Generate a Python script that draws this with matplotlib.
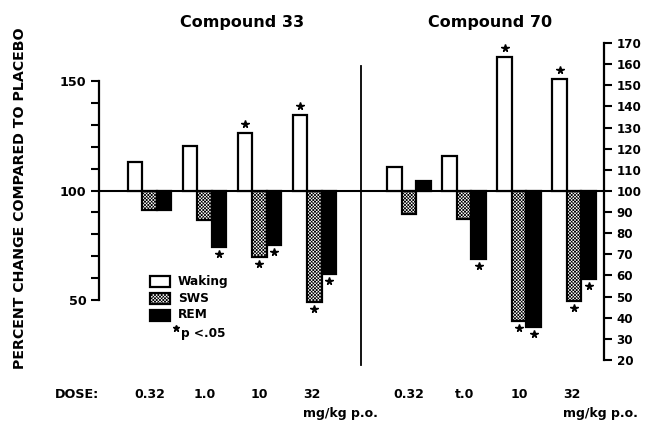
import matplotlib
matplotlib.use('Agg')
import matplotlib.pyplot as plt
import matplotlib.transforms as mtransforms
from matplotlib.patches import Rectangle

# values (percent of placebo)
doses_33 = ['0.32', '1.0', '10', '32']
doses_70 = ['0.32', 't.0', '10', '32']

waking_33 = [113, 120.5, 126.5, 134.5]
sws_33 = [91, 86.5, 69.5, 49]
rem_33 = [91, 74, 75, 62]

waking_70 = [111.5, 116.5, 163.5, 153]
sws_70 = [89, 86.5, 38.5, 48]
rem_70 = [104.5, 68, 35.5, 58.5]

# indices of doses with p < .05
sig_waking = [2, 3]
sig_sws = [2, 3]
sig_rem = [1, 2, 3]

W, H = 646, 422
plt.rcParams['font.family'] = ['DejaVu Sans']
plt.rcParams['font.weight'] = 'bold'
plt.rcParams['hatch.linewidth'] = 0.5

fig = plt.figure(figsize=(W / 100, H / 100), dpi=100)

def fx(x):
    return x / W

def fy(y):
    return 1 - y / H

ax = fig.add_axes([fx(99), fy(360), (604 - 99) / W, (360 - 43) / H])
ax2 = ax.twinx()

ax.set_xlim(-0.918, 8.264)
ax.set_ylim(22.6, 167.4)
ax2.set_ylim(20, 170)

bw = 0.264
stipple = 'xxxxxxxxxx'
centers_33 = [i for i in range(4)]
centers_70 = [4.72 + i for i in range(4)]

def draw_group(a, centers, waking, sws, rem, px_per_unit):
    up = 9 / px_per_unit
    down = 7 / px_per_unit
    for i, c in enumerate(centers):
        a.bar(c - bw, waking[i] - 100, bottom=100, width=bw, facecolor='white',
              edgecolor='black', linewidth=1.6, zorder=3)
        a.bar(c, sws[i] - 100, bottom=100, width=bw, facecolor='white',
              edgecolor='black', linewidth=1.6, hatch=stipple, zorder=3)
        a.bar(c + bw, rem[i] - 100, bottom=100, width=bw, facecolor='black',
              edgecolor='black', linewidth=1.6, zorder=3)
        if i in sig_waking:
            a.plot(c - bw, waking[i] + up, marker='*', color='black', ms=5.5, zorder=4)
        if i in sig_sws:
            a.plot(c, sws[i] - down, marker='*', color='black', ms=5.5, zorder=4)
        if i in sig_rem:
            a.plot(c + bw, rem[i] - down, marker='*', color='black', ms=5.5, zorder=4)

draw_group(ax, centers_33, waking_33, sws_33, rem_33, 2.19)
draw_group(ax2, centers_70, waking_70, sws_70, rem_70, 2.11)

ax.axhline(100, color='black', linewidth=1.5, zorder=2)

# divider between the two compounds
blend = mtransforms.blended_transform_factory(ax.transData, fig.transFigure)
ax.plot([3.845, 3.845], [fy(66), fy(365)], color='black', linewidth=1.3,
        transform=blend, clip_on=False)

# axes styling
for s in ['top', 'right', 'bottom']:
    ax.spines[s].set_visible(False)
for s in ['top', 'left', 'bottom']:
    ax2.spines[s].set_visible(False)
ax.spines['left'].set_bounds(50, 150)
ax.spines['left'].set_linewidth(1.6)
ax2.spines['right'].set_bounds(20, 170)
ax2.spines['right'].set_linewidth(1.6)

left_ticks = list(range(50, 151, 10))
ax.set_yticks(left_ticks)
ax.set_yticklabels([str(t) if t % 50 == 0 else '' for t in left_ticks])
right_ticks = list(range(20, 171, 10))
ax2.set_yticks(right_ticks)
ax2.set_yticklabels([str(t) for t in right_ticks])
ax.set_xticks([])
ax2.set_xticks([])
ax.tick_params(axis='y', direction='out', length=6, width=1.5, labelsize=9.2, pad=3)
ax2.tick_params(axis='y', direction='out', length=6, width=1.5, labelsize=8.6, pad=3)

# titles and labels
fig.text(fx(242), fy(22), 'Compound 33', ha='center', va='center', fontsize=11.5, weight='heavy')
fig.text(fx(490), fy(23), 'Compound 70', ha='center', va='center', fontsize=11.5, weight='heavy')
fig.text(fx(20), fy(198), 'PERCENT CHANGE COMPARED TO PLACEBO', rotation=90,
         ha='center', va='center', fontsize=10.2)

fig.text(fx(77), fy(395), 'DOSE:', ha='center', va='center', fontsize=9.2)
for i in range(3):
    ax.text(centers_33[i], fy(395), doses_33[i], transform=blend, ha='center', va='center', fontsize=9)
    ax.text(centers_70[i], fy(395), doses_70[i], transform=blend, ha='center', va='center', fontsize=9)
for c, d in [(centers_33[3], doses_33[3]), (centers_70[3], doses_70[3])]:
    ax.text(c - 0.2, fy(395), d, transform=blend, ha='left', va='center', fontsize=9)
    ax.text(c - 0.2, fy(413), 'mg/kg p.o.', transform=blend, ha='left', va='center', fontsize=9)

# legend
legend_items = [('Waking', 'white', ''), ('SWS', 'white', stipple), ('REM', 'black', '')]
for k, (name, fc, hatch) in enumerate(legend_items):
    yc = 281 + 17 * k
    fig.add_artist(Rectangle((fx(150), fy(yc + 5.5)), 20 / W, 11 / H, facecolor=fc,
                             edgecolor='black', linewidth=1.6, hatch=hatch,
                             transform=fig.transFigure))
    fig.text(fx(178), fy(yc), name, ha='left', va='center', fontsize=8.7)
fig.add_artist(plt.Line2D([fx(176)], [fy(328)], marker='*', color='black', ms=5,
                          transform=fig.transFigure))
fig.text(fx(181), fy(333), 'p <.05', ha='left', va='center', fontsize=8.7)

fig.savefig('out.png', dpi=100)
